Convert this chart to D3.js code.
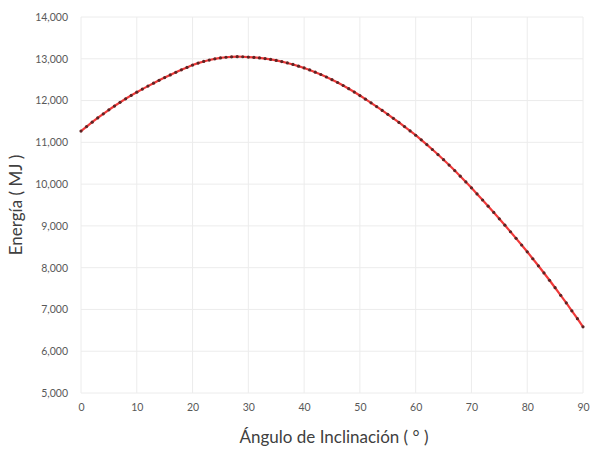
<!DOCTYPE html>
<html>
<head>
<meta charset="UTF-8" />
<title>Energía vs Ángulo de Inclinación</title>
<script src="https://cdn.jsdelivr.net/npm/d3@7"></script>
<style>
  body { margin: 0; background: #fff; }
  svg text { font-family: Lato, "Open Sans", sans-serif; }
</style>
</head>
<body>
<div id="chart"></div>
<script>
// tilt angle (degrees) and energy (MJ)
var angles = [0,1,2,3,4,5,6,7,8,9,10,11,12,13,14,15,16,17,18,19,20,
  21,22,23,24,25,26,27,28,29,30,31,32,33,34,35,36,37,38,39,40,
  41,42,43,44,45,46,47,48,49,50,51,52,53,54,55,56,57,58,59,60,
  61,62,63,64,65,66,67,68,69,70,71,72,73,74,75,76,77,78,79,80,
  81,82,83,84,85,86,87,88,89,90];
var energy = [11270,11378,11483,11584,11682,11777,11869,11957,12042,12123,12200,
  12274,12346,12416,12484,12550,12614,12676,12736,12794,12850,
  12896,12936,12970,12998,13020,13036,13046,13050,13048,13040,
  13032,13020,13004,12984,12960,12932,12900,12864,12824,12780,
  12732,12680,12624,12564,12500,12432,12360,12284,12204,12120,
  12034,11946,11856,11764,11670,11574,11476,11376,11274,11170,
  11060,10946,10829,10708,10584,10456,10325,10190,10052,9910,
  9766,9620,9472,9322,9170,9016,8860,8702,8542,8380,
  8214,8045,7873,7698,7520,7339,7155,6968,6778,6585];
var xTicks = [0,10,20,30,40,50,60,70,80,90];
var yTicks = [5000,6000,7000,8000,9000,10000,11000,12000,13000,14000];

var W = 592, H = 450;
var m = {left: 81, right: 9, top: 17, bottom: 57};

var svg = d3.select("#chart").append("svg").attr("width", W).attr("height", H);

var x = d3.scaleLinear().domain([0, 90]).range([m.left, W - m.right]);
var y = d3.scaleLinear().domain([5000, 14000]).range([H - m.bottom, m.top]);

// grid
svg.append("g").selectAll("line").data(yTicks).enter().append("line")
  .attr("x1", x(0)).attr("x2", x(90))
  .attr("y1", function(d){ return y(d); }).attr("y2", function(d){ return y(d); })
  .attr("stroke", "#ececec").attr("stroke-width", 1);
svg.append("g").selectAll("line").data(xTicks).enter().append("line")
  .attr("x1", function(d){ return x(d); }).attr("x2", function(d){ return x(d); })
  .attr("y1", y(5000)).attr("y2", y(14000))
  .attr("stroke", "#ececec").attr("stroke-width", 1);

// axes (labels only, Excel style)
var fmt = d3.format(",");
var yAxis = svg.append("g").attr("transform", "translate(" + (m.left - 10) + ",0)")
  .call(d3.axisLeft(y).tickValues(yTicks).tickFormat(fmt).tickSize(0));
var xAxis = svg.append("g").attr("transform", "translate(0," + (H - m.bottom + 8) + ")")
  .call(d3.axisBottom(x).tickValues(xTicks).tickSize(0));
[yAxis, xAxis].forEach(function(a){
  a.select(".domain").remove();
  a.selectAll("text").attr("fill", "#595959").style("font-size", "10.5px");
});

// series
var pts = angles.map(function(a, i){ return [a, energy[i]]; });
svg.append("path").datum(pts)
  .attr("fill", "none").attr("stroke", "#f03a3a").attr("stroke-width", 2.2)
  .attr("d", d3.line().x(function(d){ return x(d[0]); }).y(function(d){ return y(d[1]); }));
svg.append("g").selectAll("circle").data(pts).enter().append("circle")
  .attr("cx", function(d){ return x(d[0]); })
  .attr("cy", function(d){ return y(d[1]); })
  .attr("r", 1.6).attr("fill", "#5e2424");

// titles
svg.append("text").attr("x", (x(0) + x(90)) / 2 + 2).attr("y", 443)
  .attr("text-anchor", "middle").attr("fill", "#404040").style("font-size", "17px")
  .text("Ángulo de Inclinación ( ° )");
svg.append("text").attr("transform", "translate(22," + y(9500) + ") rotate(-90)")
  .attr("text-anchor", "middle").attr("fill", "#404040").style("font-size", "17px")
  .text("Energía ( MJ )");
</script>
</body>
</html>
